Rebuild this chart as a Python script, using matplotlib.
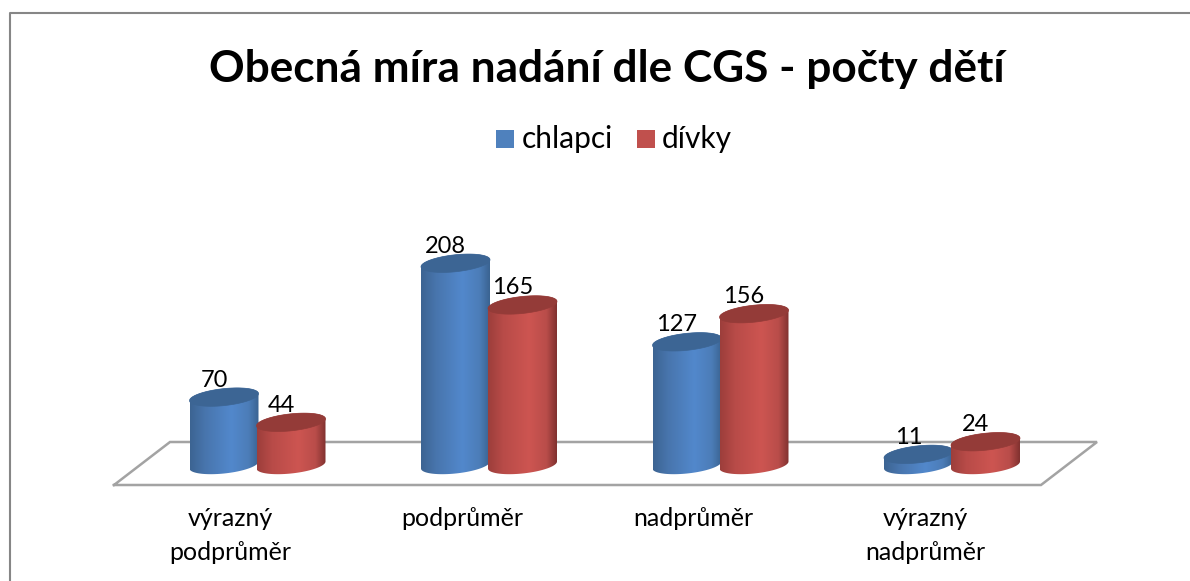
import numpy as np
import matplotlib
matplotlib.use('Agg')
import matplotlib.pyplot as plt
from matplotlib.colors import LinearSegmentedColormap
from matplotlib.patches import Polygon, Rectangle

# Data
categories = ['výrazný\npodprůměr', 'podprůměr', 'nadprůměr', 'výrazný\nnadprůměr']
chlapci = [70, 208, 127, 11]
divky = [44, 165, 156, 24]
title = 'Obecná míra nadání dle CGS - počty dětí'

W, H = 1190, 581
BASE = 465       # pixel row of value 0
PX = 0.97        # pixels per child
HALF_W = 34.5
HALF_H = 8.5
TILT = 3.5

plt.rcParams['font.family'] = ['Lato', 'DejaVu Sans']

blue_map = LinearSegmentedColormap.from_list('b', [(0, '#3c6492'), (0.22, '#4875ad'), (0.6, '#5288cc'), (0.85, '#4c7db8'), (1, '#3a6391')])
red_map = LinearSegmentedColormap.from_list('r', [(0, '#9c3e3b'), (0.22, '#b84b48'), (0.6, '#cd5551'), (0.85, '#b94d4a'), (1, '#80312f')])
grad = np.linspace(0, 1, 256).reshape(1, -1)

fig = plt.figure(figsize=(W / 100, H / 100), dpi=100)
ax = fig.add_axes([0, 0, 1, 1])


def y_val(py):
    # pixel row -> value on the y scale
    return (BASE - py) / PX


def arc(cx, v, t):
    x = cx + HALF_W * np.cos(t)
    y = v + (TILT * np.cos(t) - HALF_H * np.sin(t)) / PX
    return np.column_stack([x, y])


def cylinder(cx, v, cmap, top_color, z):
    # sin(t) > 0 is the lower side of the ellipse on screen
    low = arc(cx, 0, np.linspace(0, np.pi, 60))
    up = arc(cx, v, np.linspace(np.pi, 2 * np.pi, 60))
    body = Polygon(np.vstack([low, up]), closed=True, fc='none', ec='none', transform=ax.transData)
    ax.add_patch(body)
    im = ax.imshow(grad, cmap=cmap, extent=[cx - HALF_W, cx + HALF_W, y_val(BASE + 15), v + 12],
                   aspect='auto', zorder=z, interpolation='bilinear')
    im.set_clip_path(body)
    top = arc(cx, v, np.linspace(0, 2 * np.pi, 90))
    ax.add_patch(Polygon(top, closed=True, fc=top_color, ec=top_color, lw=0.5, zorder=z + 0.1))


# floor of the 3d plot
floor_x = [114, 1041, 1097, 170, 114]
floor_y = [485, 485, 442, 442, 485]
ax.plot(floor_x, [y_val(p) for p in floor_y], color='#a3a3a3', lw=1.8, zorder=1, solid_joinstyle='miter')

for i in range(len(categories)):
    center = 257.5 + 231.5 * i
    cylinder(center - 33.5, chlapci[i], blue_map, '#3c6594', 2)
    cylinder(center + 33.5, divky[i], red_map, '#943b38', 3)
    ax.text(center - 43.5, chlapci[i] + 17.5, str(chlapci[i]), ha='center', va='center', fontsize=17, color='black', zorder=5)
    ax.text(center + 23.5, divky[i] + 17.5, str(divky[i]), ha='center', va='center', fontsize=17, color='black', zorder=5)
    ax.text(center - 27, y_val(519), categories[i].split('\n')[0], ha='center', va='center', fontsize=18, color='black')
    if '\n' in categories[i]:
        ax.text(center - 27, y_val(553), categories[i].split('\n')[1], ha='center', va='center', fontsize=18, color='black')

# title and legend
ax.text(607, y_val(69), title, ha='center', va='center', fontsize=31.8, fontweight='bold', color='black')
ax.add_patch(Rectangle((496, y_val(148)), 18, 18 / PX, fc='#4f81bd', ec='none'))
ax.add_patch(Rectangle((637, y_val(148)), 18, 18 / PX, fc='#c0504d', ec='none'))
ax.text(522, y_val(139), 'chlapci', ha='left', va='center', fontsize=21.5, color='black')
ax.text(662, y_val(139), 'dívky', ha='left', va='center', fontsize=21.5, color='black')

# chart border, only left and top are in the picture
ax.plot([10, 10, W], [y_val(H), y_val(13), y_val(13)], color='#868686', lw=1.5, zorder=6)

ax.set_xlim(0, W)
ax.set_ylim(y_val(H), y_val(0))
ax.axis('off')
fig.savefig('out.png', dpi=100)
